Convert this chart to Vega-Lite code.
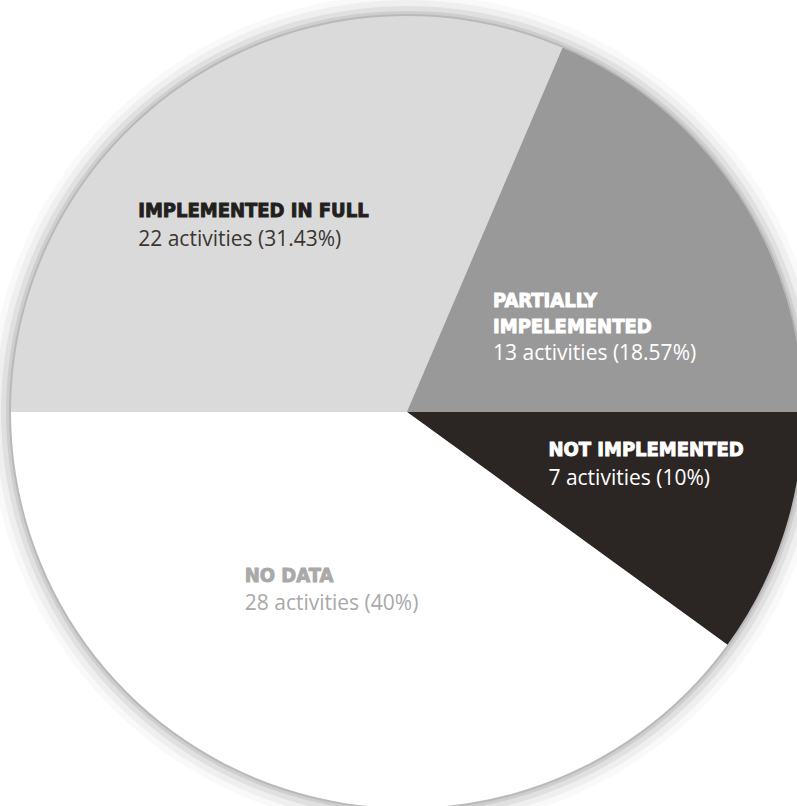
{
  "$schema": "https://vega.github.io/schema/vega-lite/v6.json",
  "autosize": {"type": "fit", "contains": "padding"},
  "width": 797,
  "height": 806,
  "padding": {"left": 17, "top": 18, "right": 0, "bottom": 0},
  "background": "#ffffff",
  "config": {"view": {"stroke": null}},
  "data": {
    "values": [
      {"rank": 1, "status": "Implemented in full", "count": 22, "title": "IMPLEMENTED IN FULL", "sub": "22 activities (31.43%)"},
      {"rank": 2, "status": "Partially impelemented", "count": 13, "title": "PARTIALLY\nIMPELEMENTED", "sub": "13 activities (18.57%)"},
      {"rank": 3, "status": "Not implemented", "count": 7, "title": "NOT IMPLEMENTED", "sub": "7 activities (10%)"},
      {"rank": 4, "status": "No data", "count": 28, "title": "NO DATA", "sub": "28 activities (40%)"}
    ]
  },
  "encoding": {
    "theta": {"field": "count", "type": "quantitative", "stack": true, "scale": {"range": [-1.5707963, 4.7123890]}},
    "order": {"field": "rank", "type": "quantitative"}
  },
  "layer": [
    {"mark": {"type": "arc", "outerRadius": 418, "fill": "#000000", "opacity": 0.025, "stroke": null}},
    {"mark": {"type": "arc", "outerRadius": 412, "fill": "#000000", "opacity": 0.04, "stroke": null}},
    {"mark": {"type": "arc", "outerRadius": 406, "fill": "#000000", "opacity": 0.06, "stroke": null}},
    {"mark": {"type": "arc", "outerRadius": 401, "fill": "#000000", "opacity": 0.08, "stroke": null}},
    {"mark": {"type": "arc", "outerRadius": 398, "fill": "#000000", "opacity": 0.1, "stroke": null}},
    {
      "mark": {"type": "arc", "outerRadius": 396, "stroke": null},
      "encoding": {
        "color": {
          "field": "status", "type": "nominal", "legend": null,
          "scale": {
            "domain": ["Implemented in full", "Partially impelemented", "Not implemented", "No data"],
            "range": ["#dadada", "#9a9999", "#2b2623", "#ffffff"]
          }
        }
      }
    },
    {
      "mark": {"type": "text", "radius": 233.8, "dx": -140, "align": "left", "baseline": "alphabetic", "font": "DejaVu Sans Condensed", "fontWeight": "bold", "fontSize": 20, "fill": "#231f1d", "stroke": "#231f1d", "strokeWidth": 0.9},
      "encoding": {"text": {"condition": {"test": "datum.rank == 1", "field": "title"}, "value": ""}}
    },
    {
      "mark": {"type": "text", "radius": 233.8, "dx": -140, "dy": 29, "align": "left", "baseline": "alphabetic", "font": "Open Sans", "fontSize": 21, "fill": "#3a3633"},
      "encoding": {"text": {"condition": {"test": "datum.rank == 1", "field": "sub"}, "value": ""}}
    },
    {
      "mark": {"type": "text", "radius": 190.6, "dx": -73, "align": "left", "baseline": "alphabetic", "lineBreak": "\n", "lineHeight": 26, "font": "DejaVu Sans Condensed", "fontWeight": "bold", "fontSize": 20, "fill": "#ffffff", "stroke": "#ffffff", "strokeWidth": 0.9},
      "encoding": {"text": {"condition": {"test": "datum.rank == 2", "field": "title"}, "value": ""}}
    },
    {
      "mark": {"type": "text", "radius": 190.6, "dx": -73, "dy": 53, "align": "left", "baseline": "alphabetic", "font": "Open Sans", "fontSize": 21, "fill": "#ffffff"},
      "encoding": {"text": {"condition": {"test": "datum.rank == 2", "field": "sub"}, "value": ""}}
    },
    {
      "mark": {"type": "text", "radius": 142.4, "dx": 6, "align": "left", "baseline": "alphabetic", "font": "DejaVu Sans Condensed", "fontWeight": "bold", "fontSize": 20, "fill": "#ffffff", "stroke": "#ffffff", "strokeWidth": 0.9},
      "encoding": {"text": {"condition": {"test": "datum.rank == 3", "field": "title"}, "value": ""}}
    },
    {
      "mark": {"type": "text", "radius": 142.4, "dx": 6, "dy": 29, "align": "left", "baseline": "alphabetic", "font": "Open Sans", "fontSize": 21, "fill": "#ffffff"},
      "encoding": {"text": {"condition": {"test": "datum.rank == 3", "field": "sub"}, "value": ""}}
    },
    {
      "mark": {"type": "text", "radius": 178.8, "dx": -107, "align": "left", "baseline": "alphabetic", "font": "DejaVu Sans Condensed", "fontWeight": "bold", "fontSize": 20, "fill": "#a9a9a9", "stroke": "#a9a9a9", "strokeWidth": 0.9},
      "encoding": {"text": {"condition": {"test": "datum.rank == 4", "field": "title"}, "value": ""}}
    },
    {
      "mark": {"type": "text", "radius": 178.8, "dx": -107, "dy": 28, "align": "left", "baseline": "alphabetic", "font": "Open Sans", "fontSize": 21, "fill": "#a9a9a9"},
      "encoding": {"text": {"condition": {"test": "datum.rank == 4", "field": "sub"}, "value": ""}}
    }
  ]
}
